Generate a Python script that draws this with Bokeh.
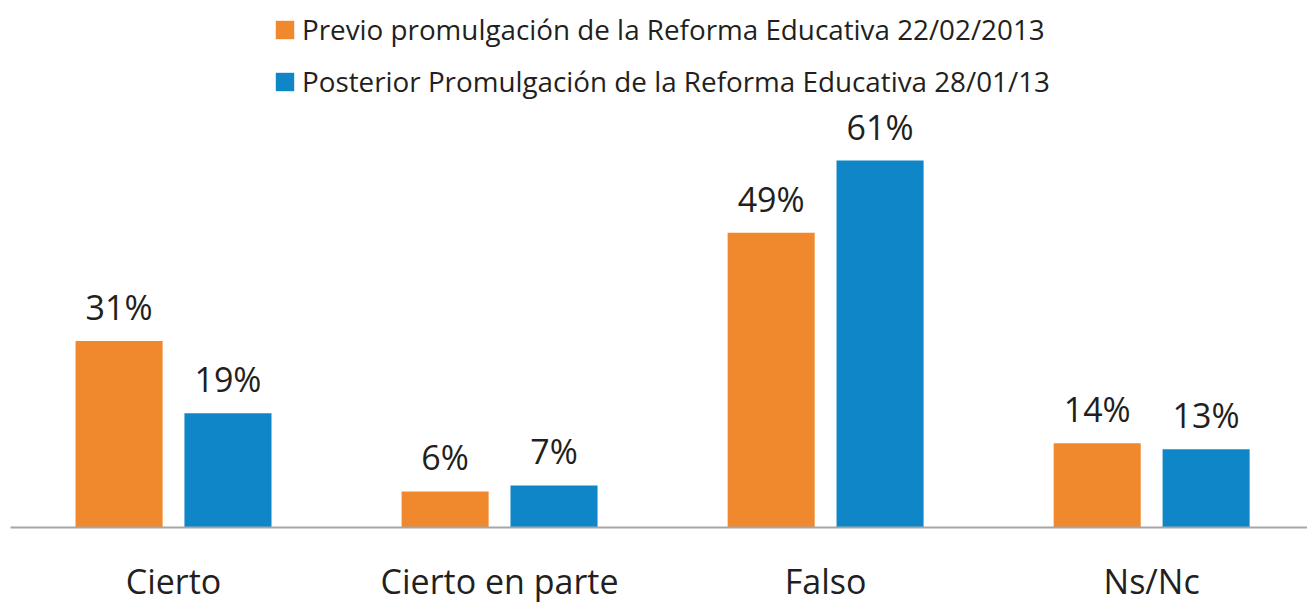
from bokeh.plotting import figure
from bokeh.models import ColumnDataSource, LabelSet, Legend, LegendItem, FixedTicker
from bokeh.transform import dodge
from bokeh.core.properties import value
from bokeh.embed import file_html
from bokeh.resources import INLINE

categories = ["Cierto", "Cierto en parte", "Falso", "Ns/Nc"]
previo = [31, 6, 49, 14]
posterior = [19, 7, 61, 13]
series_names = ["Previo promulgación de la Reforma Educativa 22/02/2013",
                "Posterior Promulgación de la Reforma Educativa 28/01/13"]
colors = ["#F0892D", "#0E86C8"]

FONT = "Open Sans"
TXT = "#231F20"

xs = list(range(len(categories)))
src = ColumnDataSource(dict(
    x=xs, previo=previo, posterior=posterior,
    previo_lbl=[f"{v}%" for v in previo],
    posterior_lbl=[f"{v}%" for v in posterior],
))

p = figure(width=1307, height=607, output_backend="svg", toolbar_location=None,
           x_range=(-0.5, 3.478), y_range=(0, 87.6),
           min_border_left=10, min_border_right=0, min_border_top=0, min_border_bottom=80)
p.outline_line_color = None
p.xgrid.visible = False
p.ygrid.visible = False
p.yaxis.visible = False
p.background_fill_color = "white"
p.border_fill_color = "white"

r1 = p.vbar(x=dodge("x", -0.167), top="previo", width=0.267, source=src,
            fill_color=colors[0], line_color=None)
r2 = p.vbar(x=dodge("x", 0.167), top="posterior", width=0.267, source=src,
            fill_color=colors[1], line_color=None)

for col, lbl, off in [("previo", "previo_lbl", -0.167), ("posterior", "posterior_lbl", 0.167)]:
    ls = LabelSet(x=dodge("x", off), y=col, text=lbl, source=src, y_offset=21,
                  text_align="center", text_baseline="alphabetic",
                  text_font=value(FONT), text_font_size="34px", text_color=TXT)
    p.add_layout(ls)

ax = p.xaxis[0]
ax.ticker = FixedTicker(ticks=xs)
ax.major_label_overrides = {i: c for i, c in enumerate(categories)}
ax.major_tick_line_color = None
ax.major_tick_out = 0
ax.major_tick_in = 0
ax.minor_tick_line_color = None
ax.minor_tick_out = 0
ax.axis_line_color = "#A6A6A6"
ax.axis_line_width = 2
ax.major_label_text_font = FONT
ax.major_label_text_font_size = "34px"
ax.major_label_text_color = TXT
ax.major_label_standoff = 30

legend = Legend(items=[LegendItem(label=series_names[0], renderers=[r1]),
                       LegendItem(label=series_names[1], renderers=[r2])],
                location=(263, 427), orientation="vertical",
                padding=0, margin=0, spacing=14,
                glyph_width=23, glyph_height=23, label_standoff=6,
                label_text_font=FONT, label_text_font_size="27.8px", label_text_color=TXT,
                border_line_color=None, background_fill_alpha=0)
p.add_layout(legend, "center")

open("out.html", "w").write(file_html(p, INLINE))
